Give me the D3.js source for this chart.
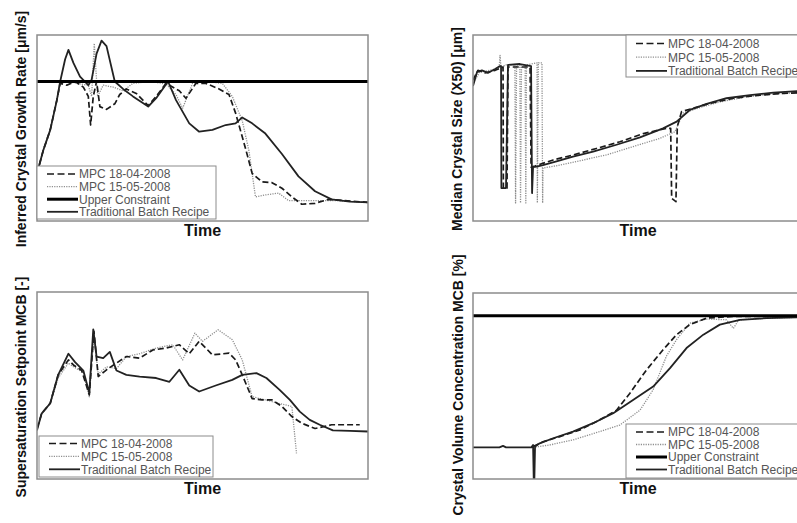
<!DOCTYPE html>
<html>
<head>
<meta charset="utf-8">
<script src="https://cdn.jsdelivr.net/npm/d3@7"></script>
<style>
  body { margin: 0; background: #fff; }
  svg { display: block; font-family: "Liberation Sans", Arial, sans-serif; }
</style>
</head>
<body>
<div id="chart"></div>
<script>
// time is normalised 0..100 in every panel, values are 0..100 of the plot height

// --- panel 1 : inferred crystal growth rate
var growthTrad = [[0,25.6],[1.9,38],[4,49],[6,65],[7,75],[8.5,87],[9.5,92],[11,85],[13,77.6],[15.5,73],[16.5,76],[18,90],[19.5,97],[21,94],[23.5,75],[26,71],[29,67],[33.6,61.5],[36,66],[39.6,75],[42,65],[46,52.5],[49,48],[53,49],[57,51.6],[60,52.5],[62,55.7],[65,52.5],[69,47],[74,36],[79,24],[84,16],[89,11.6],[94.5,10.4],[100,10]];
var growthMpc18 = [[0,25.6],[1.9,38],[4,49],[6,65],[7,74],[9,73],[11.5,75],[14,72],[15.5,67],[16.2,51.6],[17,67],[18,75],[19,61.5],[21,60],[23.5,63],[25,68],[27,71],[30,68.6],[33.6,62],[36,67],[39,74],[43,70],[45,66],[48,74],[51,74],[55,71],[58,68],[60,58],[63,39],[65,25.6],[68,21],[71,20.6],[74,17.6],[77,13],[80,9],[84,9.5],[88,11.6],[93,11],[100,10]];
var growthMpc15 = [[0,25.6],[1.9,38],[4,49],[6,65],[7,74],[9,75],[13,73.7],[15.5,73],[16.5,67],[17.3,95.5],[18.3,67],[20,73],[23,72],[26,70],[29,74],[34,75],[39,73.7],[42,68],[44,60.6],[47,74],[51,75],[56,74],[59,67],[62,54],[64,38],[66,13],[69,14],[73,15],[76,11],[84,11],[90,11],[100,10]];
var growthLimit = 75;

// --- panel 2 : median crystal size
var sizeTrad = [[0,72.6],[1.2,80],[2.7,81],[4.5,79.6],[6.7,81.7],[8.2,83.3],[8.5,83.3],[8.6,17.7],[10,17.7],[10.6,83.9],[14.2,84.4],[17.6,83.3],[17.9,15],[18.2,29],[19.3,29.2],[21.2,30],[25.3,32],[30.3,34.6],[36.4,37.3],[43.5,41],[50.6,45],[57.6,49.8],[61.7,53.4],[65.7,59.7],[70.8,63],[76.8,66],[83.9,67.7],[91,69],[100,70]];
var sizeMpc18 = [[0,75.8],[1.5,81],[3.6,79.6],[6.7,81],[9.1,82.8],[9.2,17.7],[10.3,17.7],[10.6,82.8],[17.3,82.8],[17.6,29],[18.8,29.6],[24.3,32.8],[30.3,35.5],[37.4,39],[44.5,42.6],[51.6,47],[58.6,49.8],[59.9,49.8],[60.2,12.2],[61.5,10.4],[61.9,50.7],[63.2,58.8],[66.7,60.6],[71.8,63.3],[78.9,66],[87,67.7],[94,68.6],[100,69]];
var sizeMpc15 = [[0,74],[2,80],[5,81],[7.9,82],[8.2,89],[8.5,82],[9.7,83.9],[12.7,83.9],[12.9,9.7],[13.2,83.9],[14.2,83.9],[14.4,9.7],[14.7,83.9],[15.8,83.9],[16,9.7],[16.2,83.9],[19.4,85],[19.5,9.7],[19.8,85],[20.9,85],[21.1,9.7],[21.2,28.5],[26.3,30],[33.4,32.8],[40.4,35.5],[48.5,40],[56.6,44.4],[61.2,48],[63.7,58],[68.8,61],[74.8,64],[82.9,66.8],[91,68.3],[100,69]];

// --- panel 3 : supersaturation setpoint
var superTrad = [[0,26],[1.4,35],[4,40.5],[6.4,55.7],[9.5,67],[11.5,62.5],[14,58],[15.8,46],[17,80],[18,65.5],[20,64.6],[22,68],[24,58],[27,55.7],[31,54.8],[36,54],[40,52],[43,58.4],[46,50],[49,46.8],[54,50],[59,53],[62,55.7],[66.3,56.6],[69.3,54],[73.3,47.7],[76.4,42.3],[79.4,36],[82.4,31.6],[85.4,29],[89.4,26],[94.5,25.7],[100,25.4]];
var superMpc18 = [[0,27],[1.4,35],[4,40.5],[6.4,55.7],[9.5,63.7],[11,61],[13.5,58],[15.8,45],[17.2,79],[18.5,54.8],[21,58.4],[24,62],[27,65.5],[31,64.6],[35,69],[39,70],[43,71.8],[46,67],[49,73.6],[53,66.4],[58,67.3],[60,63.7],[62,55.7],[65,43],[68,42.3],[71,42.3],[74,38.8],[77,33.4],[80,29.8],[84,27],[89,29],[97.5,29]];
var superMpc15 = [[0,27],[1.4,35],[4,40.5],[6.4,54],[9.5,62],[11,60],[14,57],[15.8,44],[17.2,78],[18.5,56],[21,60],[24,59],[27,65.5],[31,67],[36,70],[41,71.8],[44,63.7],[47.7,78],[50,73.6],[54.7,79.8],[59,74.5],[62,63.7],[65,44],[69,42.3],[73,40.5],[77,38.8],[78.4,13.7]];

// --- panel 4 : crystal volume concentration
var volTrad = [[0,17],[8,17],[9.1,17.8],[10,17],[17.7,17],[18.2,18.3],[18.4,0],[18.6,0],[18.8,17.4],[20.2,19.2],[24.3,21.9],[30.3,25.5],[36.4,30],[42.5,35.4],[48.5,42.5],[54.6,49.7],[59.7,59.6],[64.7,70.4],[69.8,77.6],[74.8,83],[80.9,85.6],[89,86.5],[100,87]];
var volMpc18 = [[18.2,17.4],[21.2,20],[26.3,22.8],[32.4,26.4],[38.4,31.8],[43.5,37],[47.5,46],[52.6,58.7],[57.6,69.5],[61.7,77.6],[65.7,83],[70.8,86.5],[78.9,87.4],[100,87.4]];
var volMpc15 = [[18.2,17],[23.3,18.3],[30.3,21],[38.4,25.5],[44.5,29],[50.6,37],[54.6,48],[58.6,66],[61.7,75],[65.7,83.8],[70.8,86],[76.8,85.6],[78.9,81],[80.5,85.5],[89,86.5],[100,87]];
var volLimit = 87.8;

var lbl18 = "MPC 18-04-2008";
var lbl15 = "MPC 15-05-2008";
var lblLimit = "Upper Constraint";
var lblTrad = "Traditional Batch Recipe";

var styles = {
	mpc18: { stroke: "#1a1a1a", width: 1.7, dash: "6,3" },
	mpc15: { stroke: "#8f8f8f", width: 1.3, dash: "1.2,1.2" },
	limit: { stroke: "#000", width: 3, dash: null },
	trad:  { stroke: "#222", width: 1.8, dash: null }
};

var W = 797, H = 523;
var svg = d3.select("#chart").append("svg")
	.attr("width", W)
	.attr("height", H);

var panels = [
	{ id: "p1", x0: 37, x1: 368, y0: 35, y1: 221, ylab: "Inferred Crystal Growth Rate [\u03bcm/s]", labX: 26, labY: 129,
	  series: [["mpc15", growthMpc15], ["mpc18", growthMpc18], ["trad", growthTrad]], limit: growthLimit,
	  legend: { x: 37, y: 166, w: 179, h: 53, top: 174, step: 12.6,
	            items: [["mpc18", lbl18], ["mpc15", lbl15], ["limit", lblLimit], ["trad", lblTrad]] } },
	{ id: "p2", x0: 473, x1: 803, y0: 35, y1: 221, ylab: "Median Crystal Size (X50) [\u03bcm]", labX: 462, labY: 129,
	  series: [["mpc15", sizeMpc15], ["mpc18", sizeMpc18], ["trad", sizeTrad]], limit: null,
	  legend: { x: 626, y: 35, w: 200, h: 42, top: 43.5, step: 13.7,
	            items: [["mpc18", lbl18], ["mpc15", lbl15], ["trad", lblTrad]] } },
	{ id: "p3", x0: 37, x1: 368, y0: 292, y1: 479, ylab: "Supersaturation Setpoint MCB [-]", labX: 26, labY: 387,
	  series: [["mpc15", superMpc15], ["mpc18", superMpc18], ["trad", superTrad]], limit: null,
	  legend: { x: 39, y: 436, w: 174, h: 41, top: 443.5, step: 12.9,
	            items: [["mpc18", lbl18], ["mpc15", lbl15], ["trad", lblTrad]] } },
	{ id: "p4", x0: 473, x1: 803, y0: 293, y1: 479, ylab: "Crystal Volume Concentration MCB [%]", labX: 463, labY: 385,
	  series: [["mpc15", volMpc15], ["mpc18", volMpc18], ["trad", volTrad]], limit: volLimit,
	  legend: { x: 626, y: 424, w: 200, h: 54, top: 432, step: 12.5,
	            items: [["mpc18", lbl18], ["mpc15", lbl15], ["limit", lblLimit], ["trad", lblTrad]] } }
];

var defs = svg.append("defs");

panels.forEach(function(p) {
	var x = d3.scaleLinear().domain([0, 100]).range([p.x0, p.x1]);
	var y = d3.scaleLinear().domain([0, 100]).range([p.y1, p.y0]);
	var line = d3.line().x(d => x(d[0])).y(d => y(d[1]));

	defs.append("clipPath").attr("id", "clip-" + p.id)
		.append("rect")
		.attr("x", p.x0).attr("y", p.y0)
		.attr("width", p.x1 - p.x0).attr("height", p.y1 - p.y0);

	var g = svg.append("g");
	var plot = g.append("g").attr("clip-path", "url(#clip-" + p.id + ")");

	p.series.forEach(function(s) {
		var st = styles[s[0]];
		plot.append("path")
			.datum(s[1])
			.attr("d", line)
			.attr("fill", "none")
			.attr("stroke", st.stroke)
			.attr("stroke-width", st.width)
			.attr("stroke-dasharray", st.dash)
			.attr("stroke-linejoin", "round");
	});

	if (p.limit != null) {
		plot.append("line")
			.attr("x1", x(0)).attr("x2", x(100))
			.attr("y1", y(p.limit)).attr("y2", y(p.limit))
			.attr("stroke", styles.limit.stroke)
			.attr("stroke-width", styles.limit.width);
	}

	// frame
	g.append("rect")
		.attr("x", p.x0).attr("y", p.y0)
		.attr("width", p.x1 - p.x0).attr("height", p.y1 - p.y0)
		.attr("fill", "none")
		.attr("stroke", "#8c8c8c")
		.attr("stroke-width", 1.5);

	// legend
	var L = p.legend;
	var lg = g.append("g");
	lg.append("rect")
		.attr("x", L.x).attr("y", L.y)
		.attr("width", L.w).attr("height", L.h)
		.attr("fill", "#fff")
		.attr("stroke", "#8c8c8c")
		.attr("stroke-width", 1);
	L.items.forEach(function(it, i) {
		var st = styles[it[0]];
		var yy = L.top + i * L.step;
		lg.append("line")
			.attr("x1", L.x + 10).attr("x2", L.x + 41)
			.attr("y1", yy).attr("y2", yy)
			.attr("stroke", st.stroke)
			.attr("stroke-width", it[0] == "limit" ? 3 : st.width)
			.attr("stroke-dasharray", it[0] == "mpc18" ? "7,3.5" : st.dash);
		lg.append("text")
			.attr("x", L.x + 42)
			.attr("y", yy)
			.attr("dy", "0.36em")
			.attr("font-size", 12)
			.attr("fill", "#555")
			.text(it[1]);
	});

	// axis titles
	g.append("text")
		.attr("x", (p.x0 + p.x1) / 2)
		.attr("y", p.y1 + 15)
		.attr("text-anchor", "middle")
		.attr("font-size", 16)
		.attr("font-weight", "bold")
		.attr("fill", "#111")
		.text("Time");

	g.append("text")
		.attr("transform", "translate(" + p.labX + "," + p.labY + ") rotate(-90)")
		.attr("text-anchor", "middle")
		.attr("font-size", 14)
		.attr("font-weight", "bold")
		.attr("fill", "#111")
		.text(p.ylab);
});
</script>
</body>
</html>
